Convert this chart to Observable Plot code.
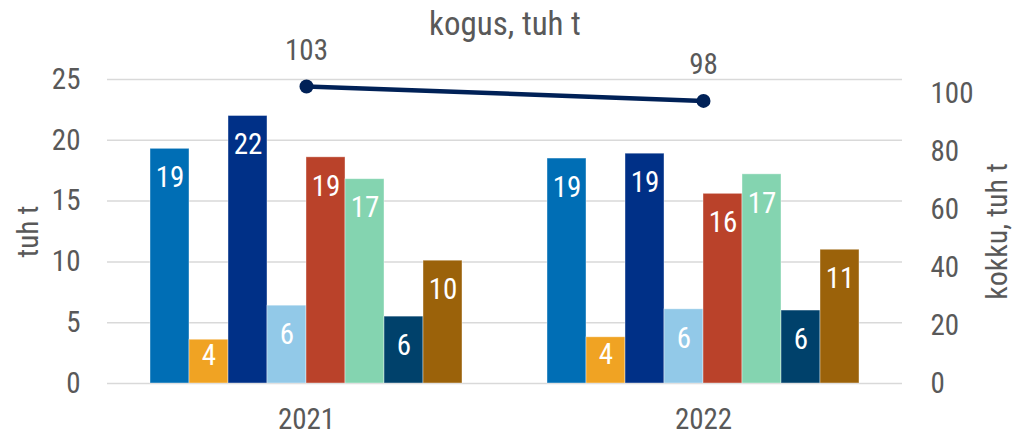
<!DOCTYPE html>
<html>
<head>
<meta charset="utf-8">
<script src="https://cdn.jsdelivr.net/npm/d3@7"></script>
<script src="https://cdn.jsdelivr.net/npm/@observablehq/plot@0.6"></script>
<style>
  html, body { margin: 0; padding: 0; background: #fff; }
  #wrap { position: relative; width: 1013px; height: 436px; }
  #wrap > svg { position: absolute; left: 0; top: 0; }
</style>
</head>
<body>
<div id="wrap"></div>
<script>
const years = ["2021", "2022"];
const categories = ["Seeria 1", "Seeria 2", "Seeria 3", "Seeria 4", "Seeria 5", "Seeria 6", "Seeria 7", "Seeria 8"];
const values2021 = [19.3, 3.6, 22.0, 6.4, 18.6, 16.8, 5.5, 10.1];
const values2022 = [18.5, 3.8, 18.9, 6.1, 15.6, 17.2, 6.0, 11.0];
const totals = [102.6, 97.6];
const leftTicks = [0, 5, 10, 15, 20, 25];
const rightTicks = [0, 20, 40, 60, 80, 100];
const colors = ["#006EB5", "#F0A323", "#003087", "#92C9E8", "#BA422A", "#84D4B0", "#00416B", "#9B620A"];
const leftMax = 25;
const rightMax = 105;

const bars = [];
years.forEach((yr, yi) => {
  const vals = yi === 0 ? values2021 : values2022;
  categories.forEach((c, ci) => bars.push({year: yr, cat: c, value: vals[ci]}));
});
const line = years.map((yr, i) => ({year: yr, total: totals[i]}));
const toLeft = v => v * leftMax / rightMax;

const font = "'Roboto Condensed', 'Liberation Sans Narrow', 'DejaVu Sans Condensed', Roboto, sans-serif";
const grey = "#595959";
const M = {marginLeft: 107, marginRight: 111, marginTop: 79, marginBottom: 53};

const basePlot = Plot.plot({
  width: 1013, height: 436, ...M,
  style: {fontFamily: font, fontSize: "29px", color: grey, background: "white", overflow: "visible"},
  x: {type: "point", domain: years, padding: 0.5, axis: null},
  y: {domain: [0, leftMax], axis: null},
  marks: [
    Plot.ruleY(leftTicks, {stroke: "#d9d9d9", strokeWidth: 1.5}),
    Plot.axisY(leftTicks, {anchor: "left", tickSize: 0, tickPadding: 27, label: null, fontSize: 29, fill: grey}),
    Plot.axisY(rightTicks.map(toLeft), {anchor: "right", tickSize: 0, tickPadding: 28, label: null,
      tickFormat: d => String(Math.round(d * rightMax / leftMax)), fontSize: 29, fill: grey}),
    Plot.text(years, {x: d => d, frameAnchor: "bottom", dy: 36, fontSize: 29, fill: grey, lineAnchor: "middle"}),
    Plot.line(line, {x: "year", y: d => toLeft(d.total), stroke: "#002157", strokeWidth: 4.5}),
    Plot.dot(line, {x: "year", y: d => toLeft(d.total), r: 7, fill: "#002157"}),
    Plot.text(line, {x: "year", y: d => toLeft(d.total), text: d => String(Math.round(d.total)), dy: -36, fontSize: 29, fill: grey, lineAnchor: "middle"}),
    Plot.text(["kogus, tuh t"], {frameAnchor: "top", dy: -55, fontSize: 33, fill: grey, lineAnchor: "middle"}),
    Plot.text(["tuh t"], {frameAnchor: "left", dx: -79, rotate: -90, textAnchor: "middle", fontSize: 29, fill: grey, lineAnchor: "middle"}),
    Plot.text(["kokku, tuh t"], {frameAnchor: "right", dx: 95, rotate: -90, textAnchor: "middle", fontSize: 30, fill: grey, lineAnchor: "middle"})
  ]
});

const barPlot = Plot.plot({
  width: 1013, height: 436, ...M,
  style: {fontFamily: font, fontSize: "29px", background: "transparent", overflow: "visible"},
  facet: {data: bars, x: "year"},
  fx: {domain: years, paddingInner: 0.214, paddingOuter: 0.108, axis: null, label: null},
  x: {domain: categories, padding: 0, axis: null},
  y: {domain: [0, leftMax], axis: null},
  color: {domain: categories, range: colors},
  marks: [
    Plot.barY(bars, {x: "cat", y: "value", fill: "cat", stroke: "white", strokeWidth: 0.8, strokeOpacity: 0.5}),
    Plot.text(bars, {filter: d => d.value >= 5, x: "cat", y: "value", text: d => String(Math.round(d.value)), dy: 29, fill: "white", fontSize: 29, lineAnchor: "middle"}),
    Plot.text(bars, {filter: d => d.value < 5, x: "cat", y: d => d.value / 2, text: d => String(Math.round(d.value)), dy: -6, fill: "white", fontSize: 29, lineAnchor: "middle"})
  ]
});

const wrap = document.getElementById("wrap");
wrap.appendChild(basePlot);
wrap.appendChild(barPlot);
</script>
</body>
</html>
